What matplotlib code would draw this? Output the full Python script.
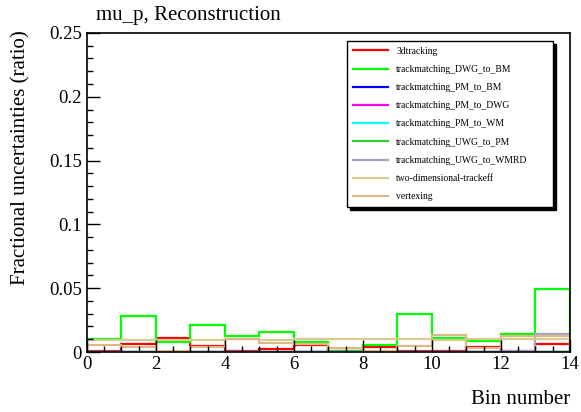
import numpy as np
import matplotlib.pyplot as plt
from matplotlib.ticker import MultipleLocator

plt.rcParams['font.family'] = ['Liberation Serif', 'DejaVu Serif']

# bin edges 0..14
edges = np.arange(0, 15)

tracking_3d = [0.0005, 0.0065, 0.0107, 0.0049, 0.0008, 0.0021, 0.0055,
               0.0005, 0.0042, 0.0008, 0.0008, 0.0042, 0.0008, 0.0060]
dwg_to_bm = [0.0100, 0.0285, 0.0078, 0.0212, 0.0125, 0.0158, 0.0075,
             0.0005, 0.0052, 0.0295, 0.0107, 0.0083, 0.0142, 0.0495]
pm_to_bm = [0.0] * 14
pm_to_dwg = [0.0] * 14
pm_to_wm = [0.0] * 14
uwg_to_pm = [0.0] * 14
uwg_to_wmrd = [0.0, 0.0, 0.0, 0.0, 0.0, 0.0, 0.0,
               0.0, 0.0, 0.0, 0.0, 0.0, 0.0010, 0.0138]
two_dim = [0.0095, 0.0095, 0.0095, 0.0095, 0.0105, 0.0095, 0.0099,
           0.0099, 0.0099, 0.0099, 0.0095, 0.0099, 0.0099, 0.0099]
vertexing = [0.0052, 0.0037, 0.0008, 0.0037, 0.0100, 0.0068, 0.0060,
             0.0029, 0.0008, 0.0047, 0.0133, 0.0030, 0.0125, 0.0125]

series = [
    ('3dtracking', tracking_3d, '#ff0000'),
    ('trackmatching_DWG_to_BM', dwg_to_bm, '#00ff00'),
    ('trackmatching_PM_to_BM', pm_to_bm, '#0000ff'),
    ('trackmatching_PM_to_DWG', pm_to_dwg, '#ff00ff'),
    ('trackmatching_PM_to_WM', pm_to_wm, '#00ffff'),
    ('trackmatching_UWG_to_PM', uwg_to_pm, '#33cc33'),
    ('trackmatching_UWG_to_WMRD', uwg_to_wmrd, '#a3a3c2'),
    ('two-dimensional-trackeff', two_dim, '#d6cc8f'),
    ('vertexing', vertexing, '#deb887'),
]

fig = plt.figure(figsize=(5.81, 4.12), dpi=100)
ax = fig.add_axes([0.1497, 0.1456, 0.8313, 0.7744])

for name, vals, col in series:
    ax.stairs(vals, edges, color=col, linewidth=1.6, label=name, baseline=0)

ax.set_xlim(0, 14)
ax.set_ylim(0, 0.25)
ax.xaxis.set_major_locator(MultipleLocator(2))
ax.xaxis.set_minor_locator(MultipleLocator(0.5))
ax.yaxis.set_major_locator(MultipleLocator(0.05))
ax.yaxis.set_minor_locator(MultipleLocator(0.01))
ax.set_yticks([0, 0.05, 0.1, 0.15, 0.2, 0.25])
ax.set_yticklabels(['0', '0.05', '0.1', '0.15', '0.2', '0.25'])
ax.tick_params(which='both', direction='in', top=False, right=False,
               labelsize=13.5, width=1)
ax.tick_params(which='major', length=9)
ax.tick_params(which='minor', length=4.5)
ax.tick_params(axis='x', pad=3)
for s in ax.spines.values():
    s.set_linewidth(1.2)

ax.set_xlabel('Bin number', fontsize=15, loc='right')
ax.xaxis.set_label_coords(1.0, -0.118)
ax.set_ylabel('Fractional uncertainties (ratio)', fontsize=15, loc='top')
ax.yaxis.set_label_coords(-0.116, 1.01)
fig.text(0.165, 0.962, 'mu_p, Reconstruction', fontsize=15, va='center')

leg = ax.legend(loc='upper left', bbox_to_anchor=(0.538, 0.975, 0.4265, 0.0),
                mode='expand', fontsize=6.9, frameon=True, fancybox=False,
                shadow={'color': 'black', 'alpha': 1.0},
                handlelength=3.7, labelspacing=0.96, borderpad=0.6,
                handletextpad=0.85, borderaxespad=0)
leg.get_frame().set_edgecolor('black')
leg.get_frame().set_linewidth(1.0)

fig.savefig('out.png', dpi=100)
